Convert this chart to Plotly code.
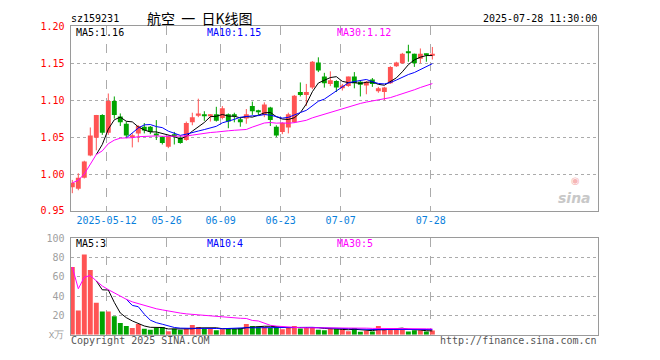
import plotly.graph_objects as go
import pandas as pd

# ---------------- data ----------------
opens = [0.982, 0.980, 0.995, 1.025, 1.049, 1.080, 1.056, 1.099, 1.078, 1.068,
         1.050, 1.055, 1.064, 1.064, 1.055, 1.050, 1.037, 1.054, 1.049, 1.046,
         1.070, 1.079, 1.081, 1.079, 1.081, 1.076, 1.081, 1.081, 1.074, 1.075,
         1.092, 1.085, 1.080, 1.090, 1.064, 1.057, 1.063, 1.070, 1.111, 1.107,
         1.117, 1.151, 1.132, 1.122, 1.126, 1.116, 1.119, 1.132, 1.125, 1.120,
         1.128, 1.112, 1.111, 1.123, 1.146, 1.150, 1.165, 1.163, 1.156, 1.163,
         1.160]
highs = [0.992, 1.001, 1.018, 1.063, 1.080, 1.081, 1.109, 1.105, 1.082, 1.071,
         1.055, 1.066, 1.069, 1.065, 1.073, 1.051, 1.052, 1.057, 1.052, 1.071,
         1.083, 1.102, 1.085, 1.081, 1.091, 1.092, 1.082, 1.083, 1.077, 1.088,
         1.098, 1.087, 1.097, 1.091, 1.066, 1.070, 1.083, 1.107, 1.124, 1.122,
         1.153, 1.158, 1.137, 1.139, 1.127, 1.122, 1.132, 1.138, 1.127, 1.126,
         1.130, 1.118, 1.118, 1.146, 1.152, 1.164, 1.175, 1.163, 1.170, 1.163,
         1.172]
lows = [0.974, 0.978, 0.994, 1.024, 1.032, 1.053, 1.053, 1.075, 1.065, 1.049,
        1.036, 1.043, 1.055, 1.054, 1.046, 1.040, 1.035, 1.040, 1.041, 1.045,
        1.066, 1.077, 1.072, 1.071, 1.071, 1.074, 1.062, 1.070, 1.064, 1.068,
        1.080, 1.080, 1.077, 1.065, 1.050, 1.054, 1.055, 1.069, 1.105, 1.092,
        1.115, 1.138, 1.117, 1.119, 1.111, 1.113, 1.118, 1.116, 1.105, 1.108,
        1.118, 1.110, 1.100, 1.122, 1.145, 1.149, 1.152, 1.145, 1.150, 1.152,
        1.155]
closes = [0.988, 0.995, 1.017, 1.052, 1.080, 1.056, 1.099, 1.080, 1.070, 1.052,
          1.052, 1.065, 1.059, 1.057, 1.052, 1.042, 1.051, 1.051, 1.042, 1.069,
          1.077, 1.082, 1.079, 1.081, 1.072, 1.089, 1.071, 1.078, 1.070, 1.081,
          1.085, 1.084, 1.094, 1.073, 1.052, 1.069, 1.081, 1.106, 1.107, 1.111,
          1.152, 1.140, 1.123, 1.127, 1.117, 1.120, 1.132, 1.123, 1.121, 1.125,
          1.122, 1.116, 1.117, 1.145, 1.151, 1.163, 1.164, 1.150, 1.163, 1.162,
          1.163]
volumes = [70, 25, 83, 67, 33, 24, 24, 19, 12, 9,
           7, 11, 6, 5, 7, 8, 3.5, 6, 5, 6,
           10, 8, 6.5, 6.5, 4.5, 5.5, 7, 6, 7, 11,
           9, 8.5, 8, 7, 8.5, 5.5, 7, 9, 6.5, 8,
           8, 5, 4.5, 6.5, 6, 5, 3.5, 7, 3, 4,
           3.3, 9, 5.7, 7, 7, 5, 3.2, 4.5, 4.5, 3.2,
           4.3]

date_idx = [6, 16, 25, 35, 45, 60]
date_labels = ["2025-05-12", "05-26", "06-09", "06-23", "07-07", "07-28"]
price_ticks = [0.95, 1.00, 1.05, 1.10, 1.15, 1.20]
price_tick_text = ["0.95", "1.00", "1.05", "1.10", "1.15", "1.20"]
vol_ticks = [0, 20, 40, 60, 80, 100]
vol_tick_text = ["x万", "20", "40", "60", "80", "100"]
price_ma_text = ["MA5:1.16", "MA10:1.15", "MA30:1.12"]
vol_ma_text = ["MA5:3", "MA10:4", "MA30:5"]

# ---------------- styles ----------------
RED = "#FF5454"
GREEN = "#00A300"
GRID = "#ABABAB"
MONO = "DejaVu Sans Mono"
W, H = 660, 360

def fx(px):
    return px / W

def fy(py):
    return 1 - py / H

n = len(closes)
idx = list(range(n))
df = pd.DataFrame({"o": opens, "h": highs, "l": lows, "c": closes, "v": volumes})
up = [c >= o for o, c in zip(opens, closes)]
colors = [RED if u else GREEN for u in up]

ma5 = df["c"].rolling(5).mean()
ma10 = df["c"].rolling(10).mean()
ma30 = df["c"].rolling(30, min_periods=1).mean()
vma5 = df["v"].rolling(5).mean()
vma10 = df["v"].rolling(10).mean()
vma30 = df["v"].rolling(30, min_periods=1).mean()

fig = go.Figure()

# wicks
for flag, col in [(True, RED), (False, GREEN)]:
    xs, ys = [], []
    for i in idx:
        if up[i] == flag:
            xs += [i, i, None]
            ys += [lows[i], highs[i], None]
    fig.add_trace(go.Scatter(x=xs, y=ys, mode="lines", line=dict(color=col, width=1),
                             xaxis="x", yaxis="y", hoverinfo="skip", showlegend=False))

# bodies
body_h = [max(abs(c - o), 0.0013) for o, c in zip(opens, closes)]
body_b = [min(o, c) for o, c in zip(opens, closes)]
fig.add_trace(go.Bar(x=idx, y=body_h, base=body_b, width=0.82,
                     marker=dict(color=colors, line=dict(width=0)),
                     xaxis="x", yaxis="y", showlegend=False))

for s, col in [(ma5, "#000000"), (ma10, "#0000FF"), (ma30, "#FF00FF")]:
    fig.add_trace(go.Scatter(x=idx, y=s, mode="lines", line=dict(color=col, width=1),
                             xaxis="x", yaxis="y", showlegend=False))

# volume
fig.add_trace(go.Bar(x=idx, y=volumes, width=0.82,
                     marker=dict(color=colors, line=dict(width=0)),
                     xaxis="x2", yaxis="y2", showlegend=False))
for s, col in [(vma5, "#000000"), (vma10, "#0000FF"), (vma30, "#FF00FF")]:
    fig.add_trace(go.Scatter(x=idx, y=s, mode="lines", line=dict(color=col, width=1),
                             xaxis="x2", yaxis="y2", showlegend=False))

xr = [-0.3, 87.6]
gx = [i - 0.28 for i in date_idx]
xdom = [fx(70.5), fx(598)]

common_x = dict(range=xr, domain=xdom, showgrid=True, gridcolor=GRID, griddash="dash",
                gridwidth=1, zeroline=False, showline=True, mirror=True,
                linecolor="#9A9A9A", linewidth=1, ticks="", tickvals=gx, fixedrange=True)

fig.update_layout(
    width=W, height=H, margin=dict(l=0, r=0, t=0, b=0),
    paper_bgcolor="white", plot_bgcolor="white", barmode="overlay",
    xaxis=dict(common_x, anchor="y", ticktext=date_labels,
               tickfont=dict(family=MONO, size=10, color="#0A7FDC")),
    yaxis=dict(domain=[fy(212), fy(21)], range=[0.95, 1.20], tickvals=price_ticks,
               ticktext=price_tick_text, tickfont=dict(family=MONO, size=10, color="#FF0000"),
               showgrid=True, gridcolor=GRID, griddash="dot", zeroline=False,
               showline=True, mirror=True, linecolor="#9A9A9A", linewidth=1, ticks="",
               anchor="x", ticklabelstandoff=3),
    xaxis2=dict(common_x, anchor="y2", showticklabels=False),
    yaxis2=dict(domain=[fy(340), fy(240)], range=[0, 100], tickvals=vol_ticks,
                ticktext=vol_tick_text, tickfont=dict(family=MONO, size=10, color="#A0A0A0"),
                showgrid=True, gridcolor=GRID, griddash="dot", zeroline=False,
                showline=True, mirror=True, linecolor="#9A9A9A", linewidth=1, ticks="",
                anchor="x2", ticklabelstandoff=3),
)

def txt(x, y, s, color="#000", size=10, anchor="left", family=MONO, **kw):
    fig.add_annotation(x=fx(x), y=fy(y), xref="paper", yref="paper", text=s,
                       showarrow=False, xanchor=anchor, yanchor="middle",
                       font=dict(family=family, size=size, color=color), **kw)

txt(69, 13, "sz159231")
txt(200, 12.5, "航空\u00a0\u00a0一\u00a0\u00a0日K线图", size=14, anchor="center",
    family="Noto Sans CJK SC")
txt(599, 13, "2025-07-28 11:30:00", anchor="right")

ma_cols = ["#000000", "#0000FF", "#FF00FF"]
for s, c, x in zip(price_ma_text, ma_cols, [73.5, 204.5, 334.5]):
    txt(x, 27, s, color=c)
for s, c, x in zip(vol_ma_text, ma_cols, [73.5, 204.5, 334.5]):
    txt(x, 246, s, color=c)

txt(68.5, 346.5, "Copyright 2025 SINA.COM", color="#555555")
txt(598.5, 346.5, "http://finance.sina.com.cn", color="#555555", anchor="right")

# sina watermark
txt(575, 180, "◉", color="#F6B6B6", size=10, anchor="center", family="DejaVu Sans")
txt(574, 199, "<b><i>sina</i></b>", color="#C8C8C8", size=14, anchor="center", family="DejaVu Sans")

fig.write_html("out.html")
